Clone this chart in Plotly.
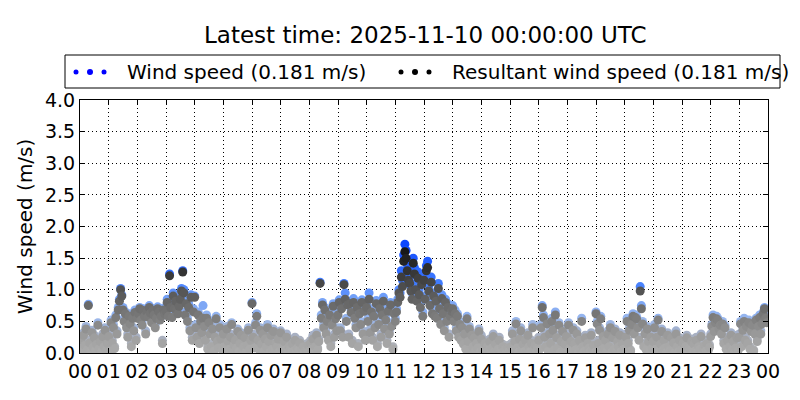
import plotly.graph_objects as go

# 2.5-minute samples, 24 per hour, hours 00..23
wind_speed = [
    0.10,0.25,0.05,0.32,0.15,0.42,0.08,0.77,0.20,0.04,0.36,0.12,0.28,0.06,0.18,0.48,0.10,0.22,0.03,0.30,0.14,0.40,0.07,0.19,
    0.30,0.05,0.52,0.20,0.45,0.10,0.60,0.35,0.72,0.85,1.02,0.92,0.72,0.55,0.65,0.45,0.30,0.62,0.50,0.15,0.58,0.40,0.68,0.25,
    0.58,0.65,0.72,0.55,0.48,0.70,0.62,0.35,0.68,0.60,0.75,0.66,0.52,0.70,0.63,0.45,0.58,0.73,0.68,0.55,0.62,0.20,0.71,0.66,
    0.70,0.85,0.62,1.25,0.82,0.60,0.95,0.78,0.88,0.72,0.66,0.80,0.90,1.02,1.30,1.00,0.65,0.85,0.55,0.78,0.40,0.92,0.25,0.70,
    0.90,0.45,0.30,0.65,0.20,0.55,0.38,0.75,0.48,0.25,0.60,0.10,0.52,0.35,0.15,0.42,0.05,0.30,0.58,0.22,0.12,0.45,0.28,0.08,
    0.35,0.15,0.05,0.42,0.22,0.10,0.30,0.48,0.08,0.18,0.25,0.12,0.38,0.04,0.20,0.32,0.06,0.14,0.28,0.02,0.16,0.40,0.09,0.24,
    0.80,0.30,0.12,0.48,0.62,0.25,0.08,0.40,0.18,0.35,0.05,0.28,0.15,0.45,0.22,0.02,0.33,0.10,0.38,0.06,0.20,0.14,0.27,0.04,
    0.35,0.12,0.05,0.22,0.08,0.30,0.02,0.15,0.10,0.04,0.18,0.06,0.25,0.03,0.12,0.07,0.20,0.02,0.09,0.14,0.04,0.11,0.06,0.16,
    0.05,0.20,0.10,0.28,0.04,0.15,0.32,0.08,0.22,1.12,0.60,0.80,0.45,0.72,0.35,0.55,0.25,0.65,0.15,0.48,0.78,0.30,0.58,0.40,
    0.65,0.84,0.40,0.73,0.30,1.10,0.95,0.55,0.80,0.30,0.82,0.68,0.20,0.86,0.60,0.45,0.76,0.15,0.66,0.50,0.84,0.35,0.70,0.25,
    0.76,0.55,0.95,0.38,0.70,0.25,0.62,0.45,0.83,0.15,0.50,0.75,0.30,0.65,0.88,0.42,0.58,0.20,0.72,0.35,0.80,0.48,0.10,0.68,
    0.55,0.70,0.85,1.00,0.95,1.30,1.15,1.55,1.72,1.62,1.40,1.25,1.20,1.05,0.95,1.50,1.35,1.10,0.90,1.28,1.00,0.80,1.18,0.65,
    1.25,0.90,1.38,1.45,1.05,0.80,1.20,0.70,0.95,0.65,0.88,0.60,1.10,0.75,0.50,0.92,0.68,0.40,0.85,0.55,0.78,0.30,0.62,0.72,
    0.75,0.55,0.68,0.40,0.62,0.30,0.50,0.25,0.45,0.18,0.35,0.10,0.58,0.22,0.42,0.08,0.32,0.15,0.28,0.05,0.20,0.12,0.38,0.04,
    0.28,0.10,0.05,0.20,0.02,0.15,0.08,0.22,0.04,0.12,0.30,0.06,0.18,0.03,0.10,0.25,0.07,0.02,0.14,0.05,0.09,0.01,0.12,0.04,
    0.05,0.15,0.35,0.08,0.22,0.50,0.12,0.02,0.28,0.40,0.10,0.18,0.04,0.25,0.06,0.32,0.14,0.03,0.20,0.45,0.09,0.16,0.02,0.12,
    0.25,0.10,0.45,0.75,0.60,0.30,0.15,0.50,0.05,0.35,0.20,0.55,0.40,0.08,0.65,0.28,0.12,0.48,0.02,0.22,0.38,0.06,0.18,0.30,
    0.30,0.48,0.12,0.22,0.05,0.40,0.18,0.08,0.35,0.02,0.25,0.10,0.55,0.15,0.04,0.28,0.06,0.20,0.12,0.03,0.32,0.08,0.16,0.02,
    0.65,0.50,0.20,0.40,0.58,0.08,0.30,0.12,0.25,0.05,0.35,0.15,0.45,0.02,0.28,0.10,0.38,0.06,0.22,0.14,0.32,0.04,0.18,0.09,
    0.10,0.30,0.55,0.20,0.40,0.05,0.50,0.62,0.35,0.60,0.58,0.45,0.25,1.05,0.75,0.50,0.15,0.35,0.08,0.42,0.22,0.04,0.30,0.12,
    0.22,0.45,0.10,0.30,0.55,0.05,0.18,0.38,0.08,0.25,0.12,0.02,0.32,0.15,0.06,0.28,0.10,0.20,0.03,0.35,0.14,0.04,0.24,0.08,
    0.10,0.20,0.05,0.15,0.28,0.02,0.12,0.08,0.22,0.04,0.18,0.06,0.25,0.03,0.14,0.09,0.30,0.02,0.11,0.16,0.05,0.20,0.07,0.13,
    0.30,0.45,0.60,0.38,0.52,0.58,0.55,0.42,0.48,0.35,0.50,0.20,0.44,0.10,0.25,0.05,0.15,0.32,0.08,0.22,0.02,0.12,0.28,0.06,
    0.30,0.50,0.15,0.40,0.55,0.25,0.45,0.20,0.52,0.10,0.38,0.48,0.05,0.35,0.55,0.22,0.45,0.60,0.35,0.50,0.65,0.72,0.58,0.52,
]

resultant_speed = [
    0.07,0.21,0.03,0.28,0.12,0.38,0.05,0.75,0.16,0.02,0.32,0.09,0.24,0.04,0.14,0.44,0.07,0.18,0.02,0.26,0.10,0.36,0.05,0.15,
    0.26,0.03,0.48,0.16,0.40,0.07,0.56,0.30,0.68,0.82,1.00,0.90,0.68,0.50,0.62,0.40,0.25,0.58,0.46,0.10,0.55,0.35,0.64,0.20,
    0.55,0.62,0.70,0.52,0.44,0.67,0.58,0.30,0.65,0.57,0.72,0.63,0.48,0.67,0.60,0.40,0.55,0.70,0.65,0.52,0.58,0.15,0.68,0.62,
    0.66,0.80,0.58,1.22,0.72,0.56,0.90,0.70,0.82,0.68,0.62,0.74,0.85,0.98,1.28,0.95,0.60,0.78,0.50,0.72,0.35,0.88,0.20,0.65,
    0.88,0.40,0.25,0.60,0.15,0.50,0.32,0.55,0.42,0.20,0.55,0.06,0.48,0.30,0.10,0.38,0.03,0.25,0.54,0.18,0.08,0.40,0.22,0.05,
    0.30,0.10,0.03,0.38,0.18,0.06,0.25,0.45,0.05,0.12,0.20,0.08,0.34,0.02,0.15,0.28,0.04,0.10,0.24,0.01,0.12,0.36,0.06,0.20,
    0.78,0.25,0.08,0.44,0.58,0.20,0.05,0.36,0.14,0.30,0.03,0.22,0.10,0.40,0.18,0.01,0.28,0.06,0.34,0.04,0.15,0.10,0.22,0.02,
    0.32,0.08,0.03,0.18,0.05,0.25,0.01,0.10,0.06,0.02,0.14,0.03,0.20,0.02,0.08,0.04,0.16,0.01,0.06,0.10,0.02,0.07,0.04,0.12,
    0.03,0.15,0.06,0.22,0.02,0.10,0.28,0.05,0.18,1.10,0.55,0.76,0.40,0.68,0.30,0.50,0.20,0.60,0.10,0.44,0.74,0.25,0.54,0.35,
    0.60,0.80,0.35,0.70,0.25,1.08,0.85,0.50,0.76,0.25,0.78,0.64,0.15,0.80,0.55,0.40,0.72,0.10,0.62,0.45,0.80,0.30,0.66,0.20,
    0.72,0.50,0.85,0.32,0.65,0.20,0.58,0.40,0.78,0.10,0.45,0.70,0.25,0.60,0.82,0.38,0.52,0.15,0.66,0.30,0.76,0.42,0.06,0.62,
    0.50,0.65,0.80,0.95,0.88,1.20,1.05,1.45,1.60,1.50,1.30,1.15,1.10,0.98,0.85,1.42,1.25,1.00,0.82,1.18,0.92,0.72,1.08,0.58,
    1.15,0.85,1.30,1.35,0.98,0.75,1.12,0.62,0.90,0.58,0.82,0.55,1.02,0.70,0.45,0.86,0.62,0.35,0.80,0.50,0.72,0.25,0.58,0.66,
    0.70,0.50,0.62,0.35,0.58,0.25,0.45,0.20,0.40,0.14,0.30,0.06,0.54,0.18,0.38,0.05,0.28,0.10,0.24,0.03,0.15,0.08,0.34,0.02,
    0.22,0.06,0.03,0.15,0.01,0.10,0.05,0.18,0.02,0.08,0.26,0.03,0.14,0.02,0.06,0.20,0.04,0.01,0.10,0.03,0.06,0.01,0.08,0.02,
    0.03,0.10,0.30,0.05,0.18,0.46,0.08,0.01,0.22,0.35,0.06,0.14,0.02,0.20,0.04,0.28,0.10,0.02,0.15,0.40,0.06,0.12,0.01,0.08,
    0.20,0.06,0.40,0.72,0.56,0.25,0.10,0.46,0.03,0.30,0.15,0.50,0.36,0.05,0.60,0.24,0.08,0.44,0.01,0.18,0.34,0.04,0.14,0.26,
    0.25,0.44,0.08,0.18,0.03,0.36,0.14,0.05,0.30,0.01,0.20,0.06,0.50,0.10,0.02,0.24,0.04,0.15,0.08,0.02,0.28,0.05,0.12,0.01,
    0.62,0.46,0.15,0.36,0.54,0.05,0.26,0.08,0.20,0.03,0.30,0.10,0.40,0.01,0.24,0.06,0.34,0.04,0.18,0.10,0.28,0.02,0.14,0.06,
    0.06,0.25,0.50,0.15,0.36,0.03,0.45,0.58,0.30,0.56,0.54,0.40,0.20,0.98,0.70,0.46,0.10,0.30,0.05,0.38,0.18,0.02,0.25,0.08,
    0.18,0.40,0.06,0.25,0.52,0.03,0.14,0.34,0.05,0.20,0.08,0.01,0.28,0.10,0.04,0.24,0.06,0.16,0.02,0.30,0.10,0.02,0.20,0.05,
    0.06,0.15,0.03,0.10,0.24,0.01,0.08,0.05,0.18,0.02,0.14,0.03,0.20,0.02,0.10,0.06,0.26,0.01,0.07,0.12,0.03,0.15,0.04,0.09,
    0.26,0.42,0.56,0.34,0.48,0.54,0.52,0.38,0.44,0.30,0.46,0.15,0.40,0.06,0.20,0.03,0.10,0.28,0.05,0.18,0.01,0.08,0.24,0.04,
    0.25,0.46,0.10,0.36,0.50,0.20,0.42,0.15,0.48,0.06,0.34,0.44,0.03,0.30,0.52,0.18,0.42,0.56,0.30,0.46,0.62,0.70,0.55,0.48,
]

assert len(wind_speed) == len(resultant_speed) == 576, (len(wind_speed), len(resultant_speed))

samples_per_hour = 24
hours = [i / samples_per_hour for i in range(len(wind_speed))]

hour_ticks = list(range(0, 25))
hour_labels = ["%02d" % (h % 24) for h in hour_ticks]
y_ticks = [0.0, 0.5, 1.0, 1.5, 2.0, 2.5, 3.0, 3.5, 4.0]

title_text = "Latest time: 2025-11-10 00:00:00 UTC"
wind_label = "Wind speed (0.181 m/s)"
res_label = "Resultant wind speed (0.181 m/s)"

FONT = "DejaVu Sans"

fig = go.Figure()
fig.add_trace(go.Scatter(
    x=hours, y=wind_speed, mode="markers", name=wind_label,
    marker=dict(size=9, color=wind_speed, cmin=0, cmax=1.7,
                colorscale=[[0, "#b0b0b0"], [0.15, "#a8b0c2"], [0.3, "#9ab8ee"], [0.5, "#72a0f8"],
                            [0.65, "#3f7bff"], [1, "#0d47ff"]],
                line=dict(width=0)),
    showlegend=False,
))
fig.add_trace(go.Scatter(
    x=hours, y=resultant_speed, mode="markers", name=res_label,
    marker=dict(size=9, color=resultant_speed, cmin=0, cmax=1.7,
                colorscale=[[0, "#adadad"], [0.12, "#a2a2a2"], [0.24, "#8e8e8e"], [0.35, "#787878"],
                            [0.47, "#666666"], [0.59, "#525252"], [0.76, "#333333"], [1, "#0f0f0f"]],
                line=dict(width=0)),
    showlegend=False,
))

# page offset (browser body margin) compensation
OFF = 8
W, H = 800 - OFF, 400 - OFF
L, R, T, B = 80 - OFF, 32, 100 - OFF, 47
PW, PH = W - L - R, H - T - B

def px_x(p):
    return (p - OFF - L) / PW

def px_y(p):
    return (H - B - (p - OFF)) / PH

shapes = [dict(type="rect", xref="paper", yref="paper",
               x0=px_x(65), x1=px_x(780), y0=px_y(88), y1=px_y(55),
               line=dict(color="black", width=1), fillcolor="white", layer="above")]
for cx, sz, col in [(76, 5, "blue"), (90, 6, "blue"), (104, 5, "blue"),
                    (401, 5, "black"), (415, 6, "black"), (429, 5, "black")]:
    shapes.append(dict(type="circle", xref="paper", yref="paper",
                       xsizemode="pixel", ysizemode="pixel",
                       xanchor=px_x(cx), yanchor=px_y(72),
                       x0=-sz / 2, x1=sz / 2, y0=-sz / 2, y1=sz / 2,
                       fillcolor=col, line=dict(width=0), layer="above"))
fig.update_layout(shapes=shapes)

annotations = [
    dict(text=wind_label, xref="paper", yref="paper", x=px_x(125), y=px_y(72),
         xanchor="left", yanchor="middle", showarrow=False,
         font=dict(family=FONT, size=20, color="black")),
    dict(text=res_label, xref="paper", yref="paper", x=px_x(450), y=px_y(72),
         xanchor="left", yanchor="middle", showarrow=False,
         font=dict(family=FONT, size=20, color="black")),
    dict(text=title_text, xref="paper", yref="paper", x=px_x(425), y=px_y(35),
         xanchor="center", yanchor="middle", showarrow=False,
         font=dict(family=FONT, size=23, color="black")),
]
fig.update_layout(annotations=annotations)

fig.update_layout(
    width=W, height=H,
    margin=dict(l=L, r=R, t=T, b=B),
    paper_bgcolor="white", plot_bgcolor="white",
    font=dict(family=FONT, size=19, color="black"),
)
fig.update_xaxes(
    range=[0, 24], tickmode="array", tickvals=hour_ticks, ticktext=hour_labels,
    showgrid=True, gridcolor="black", griddash="1px,3px", gridwidth=1,
    showline=True, linecolor="black", linewidth=1, mirror="ticks",
    ticks="inside", ticklen=5, tickcolor="black", zeroline=False,
    tickfont=dict(family=FONT, size=19), ticklabelstandoff=1,
)
fig.update_yaxes(
    range=[0, 4], tickmode="array", tickvals=y_ticks, ticktext=["%.1f" % v for v in y_ticks],
    showgrid=True, gridcolor="black", griddash="1px,3px", gridwidth=1,
    showline=True, linecolor="black", linewidth=1, mirror="ticks",
    ticks="inside", ticklen=5, tickcolor="black", zeroline=False,
    tickfont=dict(family=FONT, size=19),
    title=dict(text="Wind speed (m/s)", font=dict(family=FONT, size=20), standoff=6),
)

fig.write_html("out.html")
